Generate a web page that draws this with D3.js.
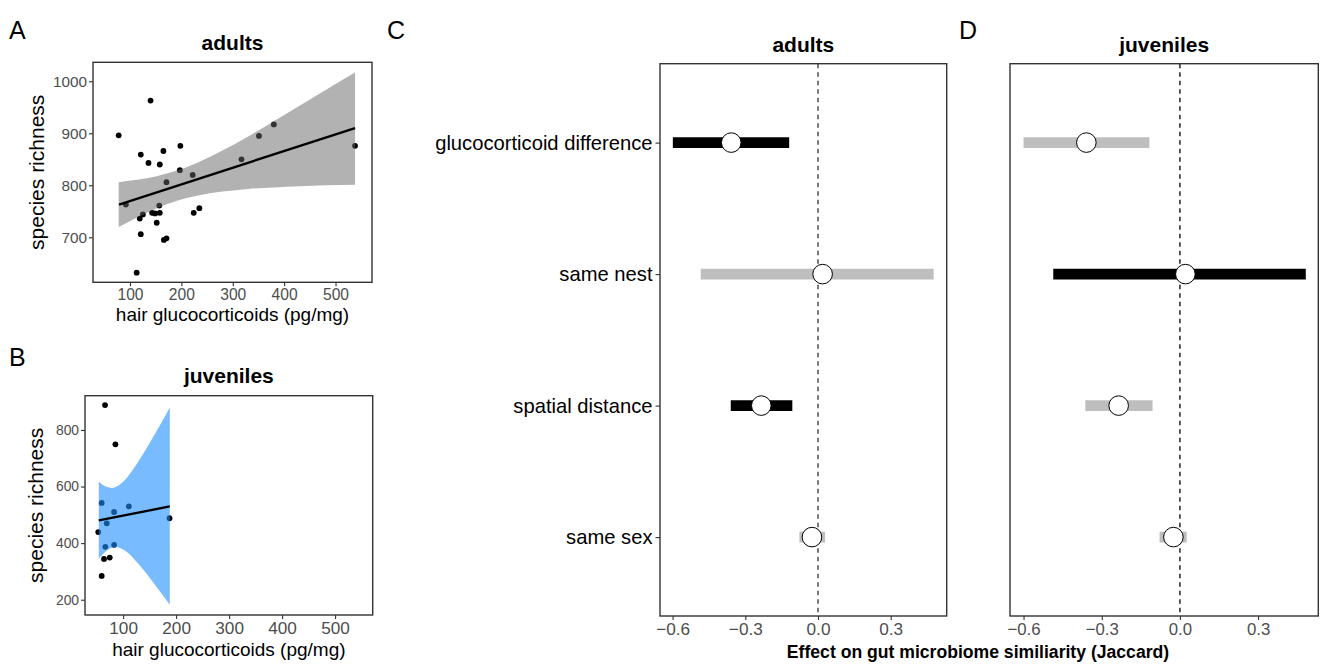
<!DOCTYPE html>
<html><head><meta charset="utf-8">
<script src="https://cdn.jsdelivr.net/npm/d3@7"></script>
<style>body{margin:0;background:#fff;} svg{display:block;font-family:"Liberation Sans",Arial,sans-serif;}</style>
</head><body>
<svg id="c" width="1322" height="667"></svg>
<script>
// ---- Panel A: adults scatter ----
const adultX = [78,140,121,136,165,158,198,197,171,222,317,351,380,538,92,125,119,143,149,158,157,152,121,166,171,113,224,235];
const adultY = [896,963,859,843,866,840,876,829,806,820,850,895,917,876,763,744,736,747,746,747,761,728,706,695,698,632,747,756];
const adultFitX = [78.6, 538];
const adultFitY = [763, 910];
const adultBandX = [78,110,150,190,230,280,330,380,430,480,538];
const adultBandLo = [720,736,755,770,780,788,793,796,798,800,801];
const adultBandHi = [806,810,817,828,843,867,894,923,953,983,1017];

// ---- Panel B: juveniles scatter ----
const juvX = [65.8,85.4,59.5,82.9,110.8,69,53,187.5,66.4,82.9,63.9,74.7,59.5];
const juvY = [888,749,542,510,530,470,439,488,387,394,344,349,284];
const juvFitX = [54, 188];
const juvFitY = [480.7, 529.6];
const juvBandX = [54,62,70,78,86,95,105,120,135,150,170,188];
const juvBandLo = [345,362,375,384,386,382,371,345,313,278,228,182];
const juvBandHi = [617,605,598,595,598,609,627,664,707,754,818,879];

const xTicksScatter = [100,200,300,400,500];
const yTicksA = [700,800,900,1000];
const yTicksB = [200,400,600,800];

// ---- Panels C, D: effect sizes ----
const terms = ["glucocorticoid difference","same nest","spatial distance","same sex"];
const adultEst = [-0.358, 0.019, -0.234, -0.025];
const adultLo  = [-0.599, -0.484, -0.360, -0.077];
const adultHi  = [-0.119, 0.477, -0.106, 0.029];
const adultSig = [true, false, true, false];
const juvEst = [-0.359, 0.021, -0.235, -0.025];
const juvLo  = [-0.600, -0.486, -0.363, -0.078];
const juvHi  = [-0.117, 0.483, -0.105, 0.026];
const juvSig = [false, true, false, false];
const effTicks = [-0.6,-0.3,0.0,0.3];

const svg = d3.select("#c");
const tickCol = "#4D4D4D", axCol = "#333333";
const FF = "Liberation Sans, Arial, sans-serif";

function letter(t,x,y){ svg.append("text").attr("x",x).attr("y",y).attr("font-size",25).attr("fill","#000").text(t); }
letter("A",9,39); letter("B",9,366); letter("C",387,39); letter("D",959,39);

function scatterPanel(o){
  const x = d3.scaleLinear().domain([28,571]).range([o.left,o.right]);
  const y = d3.scaleLinear().domain(o.ydom).range([o.bottom,o.top]);
  const g = svg.append("g");
  g.selectAll("circle.pt").data(o.px.map((v,i)=>[v,o.py[i]])).join("circle")
    .attr("cx",d=>x(d[0])).attr("cy",d=>y(d[1])).attr("r",2.9).attr("fill","#000");
  const band = o.bx.map((v,i)=>({x:v,lo:o.blo[i],hi:o.bhi[i]}));
  g.append("path").datum(band)
    .attr("d", d3.area().x(d=>x(d.x)).y0(d=>y(d.lo)).y1(d=>y(d.hi)).curve(d3.curveMonotoneX))
    .attr("fill",o.bandFill).attr("fill-opacity",o.bandOp);
  g.append("path").datum(o.fx.map((v,i)=>[v,o.fy[i]]))
    .attr("d", d3.line().x(d=>x(d[0])).y(d=>y(d[1])))
    .attr("stroke","#000").attr("stroke-width",2.3).attr("fill","none");
  const xa = g.append("g").attr("transform",`translate(0,${o.bottom})`)
    .call(d3.axisBottom(x).tickValues(xTicksScatter).tickFormat(d3.format("d")).tickSize(4).tickPadding(3));
  xa.select(".domain").remove();
  xa.selectAll("line").attr("stroke",axCol).attr("stroke-width",1.1);
  xa.selectAll("text").attr("font-size",o.xtf).attr("fill",tickCol).attr("font-family",FF);
  const ya = g.append("g").attr("transform",`translate(${o.left},0)`)
    .call(d3.axisLeft(y).tickValues(o.yticks).tickFormat(d3.format("d")).tickSize(4).tickPadding(2));
  ya.select(".domain").remove();
  ya.selectAll("line").attr("stroke",axCol).attr("stroke-width",1.1);
  ya.selectAll("text").attr("font-size",o.ytf).attr("fill",tickCol).attr("font-family",FF);
  g.append("rect").attr("x",o.left).attr("y",o.top).attr("width",o.right-o.left).attr("height",o.bottom-o.top)
    .attr("fill","none").attr("stroke",axCol).attr("stroke-width",1.4);
  const cx = (o.left+o.right)/2;
  g.append("text").attr("x",cx).attr("y",o.titleY).attr("text-anchor","middle").attr("font-size",21).attr("font-weight","bold").text(o.title);
  g.append("text").attr("x",cx).attr("y",o.xlabY).attr("text-anchor","middle").attr("font-size",19).text("hair glucocorticoids (pg/mg)");
  g.append("text").attr("transform",`translate(${o.ylabX},${(o.top+o.bottom)/2}) rotate(-90)`)
    .attr("text-anchor","middle").attr("font-size",21).text("species richness");
}

scatterPanel({left:93,right:372,top:62.3,bottom:282.3,ydom:[613.5,1036.5],px:adultX,py:adultY,
  bx:adultBandX,blo:adultBandLo,bhi:adultBandHi,fx:adultFitX,fy:adultFitY,bandFill:"#666666",bandOp:0.5,
  yticks:yTicksA,title:"adults",titleY:50,xlabY:321,ylabX:44,xtf:15.6,ytf:15.3});
scatterPanel({left:85,right:372.7,top:395.7,bottom:615,ydom:[146,921],px:juvX,py:juvY,
  bx:juvBandX,blo:juvBandLo,bhi:juvBandHi,fx:juvFitX,fy:juvFitY,bandFill:"#1E90FF",bandOp:0.6,
  yticks:yTicksB,title:"juveniles",titleY:383,xlabY:656,ylabX:43,xtf:17.2,ytf:13.8});

function effectPanel(o){
  const x = d3.scaleLinear().domain([-0.652,0.531]).range([o.left,o.right]);
  const y = d3.scalePoint().domain(terms).range([o.top,o.bottom]).padding(0.6);
  const g = svg.append("g");
  g.append("line").attr("x1",x(0)).attr("x2",x(0)).attr("y1",o.top).attr("y2",o.bottom)
    .attr("stroke",o.dashCol).attr("stroke-width",1.3).attr("stroke-dasharray","4.5,4");
  const data = terms.map((t,i)=>({t,est:o.est[i],lo:o.lo[i],hi:o.hi[i],sig:o.sig[i]}));
  g.selectAll("line.ci").data(data).join("line")
    .attr("x1",d=>x(d.lo)).attr("x2",d=>x(d.hi)).attr("y1",d=>y(d.t)).attr("y2",d=>y(d.t))
    .attr("stroke",d=>d.sig?"#000":"#BEBEBE").attr("stroke-width",10.8);
  g.selectAll("circle.est").data(data).join("circle")
    .attr("cx",d=>x(d.est)).attr("cy",d=>y(d.t)).attr("r",9.8)
    .attr("fill","#fff").attr("stroke","#000").attr("stroke-width",1);
  const xa = g.append("g").attr("transform",`translate(0,${o.bottom})`)
    .call(d3.axisBottom(x).tickValues(effTicks).tickFormat(d3.format(".1f")).tickSize(4).tickPadding(3));
  xa.select(".domain").remove();
  xa.selectAll("line").attr("stroke",axCol).attr("stroke-width",1.1);
  xa.selectAll("text").attr("font-size",o.tf).attr("fill",tickCol).attr("font-family",FF);
  if(o.ylabels){
    const ya = g.append("g").attr("transform",`translate(${o.left},0)`)
      .call(d3.axisLeft(y).tickSize(4.5).tickPadding(3));
    ya.select(".domain").remove();
    ya.selectAll("line").attr("stroke",axCol).attr("stroke-width",1.1);
    ya.selectAll("text").attr("font-size",20.2).attr("fill","#000").attr("font-family",FF);
  }
  g.append("rect").attr("x",o.left).attr("y",o.top).attr("width",o.right-o.left).attr("height",o.bottom-o.top)
    .attr("fill","none").attr("stroke",axCol).attr("stroke-width",1.4);
  g.append("text").attr("x",(o.left+o.right)/2).attr("y",52).attr("text-anchor","middle")
    .attr("font-size",21).attr("font-weight","bold").text(o.title);
}
effectPanel({left:660,right:946.7,top:63.7,bottom:616,est:adultEst,lo:adultLo,hi:adultHi,sig:adultSig,
  dashCol:"#333333",ylabels:true,title:"adults",tf:17.2});
effectPanel({left:1010,right:1318.3,top:63.7,bottom:616,est:juvEst,lo:juvLo,hi:juvHi,sig:juvSig,
  dashCol:"#000000",ylabels:false,title:"juveniles",tf:16.8});

svg.append("text").attr("x",978).attr("y",658).attr("text-anchor","middle").attr("font-size",17.6)
  .attr("font-weight","bold").text("Effect on gut microbiome similiarity (Jaccard)");
</script>
</body></html>
